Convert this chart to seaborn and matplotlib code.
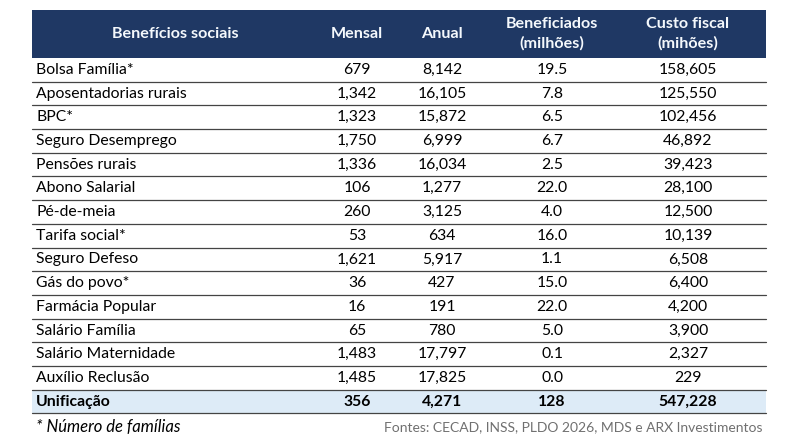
import numpy as np
import pandas as pd
import matplotlib
matplotlib.use("Agg")
import matplotlib.pyplot as plt
import seaborn as sns

# data
beneficios = ["Bolsa Família*", "Aposentadorias rurais", "BPC*", "Seguro Desemprego",
              "Pensões rurais", "Abono Salarial", "Pé-de-meia", "Tarifa social*",
              "Seguro Defeso", "Gás do povo*", "Farmácia Popular", "Salário Família",
              "Salário Maternidade", "Auxílio Reclusão"]
mensal = [679, 1342, 1323, 1750, 1336, 106, 260, 53, 1621, 36, 16, 65, 1483, 1485]
anual = [8142, 16105, 15872, 6999, 16034, 1277, 3125, 634, 5917, 427, 191, 780, 17797, 17825]
beneficiados = [19.5, 7.8, 6.5, 6.7, 2.5, 22.0, 4.0, 16.0, 1.1, 15.0, 22.0, 5.0, 0.1, 0.0]
custo = [158605, 125550, 102456, 46892, 39423, 28100, 12500, 10139, 6508, 6400, 4200, 3900, 2327, 229]
total_label = "Unificação"
total_vals = ["356", "4,271", "128", "547,228"]
headers = ["Benefícios sociais", "Mensal", "Anual", "Beneficiados\n(milhões)", "Custo fiscal\n(mihões)"]
nota = "* Número de famílias"
fontes = "Fontes: CECAD, INSS, PLDO 2026, MDS e ARX Investimentos"

df = pd.DataFrame({"Mensal": mensal, "Anual": anual,
                   "Beneficiados": beneficiados, "Custo": custo}, index=beneficios)

sns.set_theme(style="white")
plt.rcParams['font.family'] = ['Lato', 'DejaVu Sans']

fig = plt.figure(figsize=(8, 4.45), dpi=100)
ax = fig.add_axes([0, 0, 1, 1])
ax.set_xlim(0, 800)
ax.set_ylim(445, 0)
ax.axis("off")

navy = "#1F3864"
light = "#DDEBF7"
x0, x1 = 32, 766
top, head_h, row_h = 10, 48, 23.7
col_x = [175, 357, 442, 552, 688]
fs = 11.3

# header
ax.add_patch(plt.Rectangle((x0, top), x1 - x0, head_h, color=navy, lw=0))
for x, h in zip(col_x, headers):
    ax.text(x, top + head_h / 2, h, color="#F4F8FC", fontsize=11.6, fontweight="bold",
            ha="center", va="center", linespacing=1.4)

y = top + head_h
for i, name in enumerate(df.index):
    r = df.loc[name]
    yc = y + row_h / 2
    ax.text(36, yc, name, fontsize=fs, va="center", ha="left", color="black")
    vals = [f"{r['Mensal']:,.0f}", f"{r['Anual']:,.0f}", f"{r['Beneficiados']:.1f}", f"{r['Custo']:,.0f}"]
    for x, v in zip(col_x[1:], vals):
        ax.text(x, yc, v, fontsize=fs, va="center", ha="center", color="black")
    y += row_h
    ax.plot([x0, x1], [y, y], color="#444444", lw=0.9)

# total row
ax.add_patch(plt.Rectangle((x0, y), x1 - x0, row_h, color=light, lw=0, zorder=0))
yc = y + row_h / 2
ax.text(36, yc, total_label, fontsize=fs, fontweight="bold", va="center", ha="left", color="black")
for x, v in zip(col_x[1:], total_vals):
    ax.text(x, yc, v, fontsize=fs, fontweight="bold", va="center", ha="center", color="black")
y += row_h
ax.plot([x0, x1], [y, y], color="#444444", lw=0.9)

ax.text(36, 427, nota, fontsize=12, style="italic", va="center", ha="left", color="black")
ax.text(762, 427, fontes, fontsize=10, va="center", ha="right", color="#707070")

fig.savefig("out.png", dpi=100, facecolor="white")
